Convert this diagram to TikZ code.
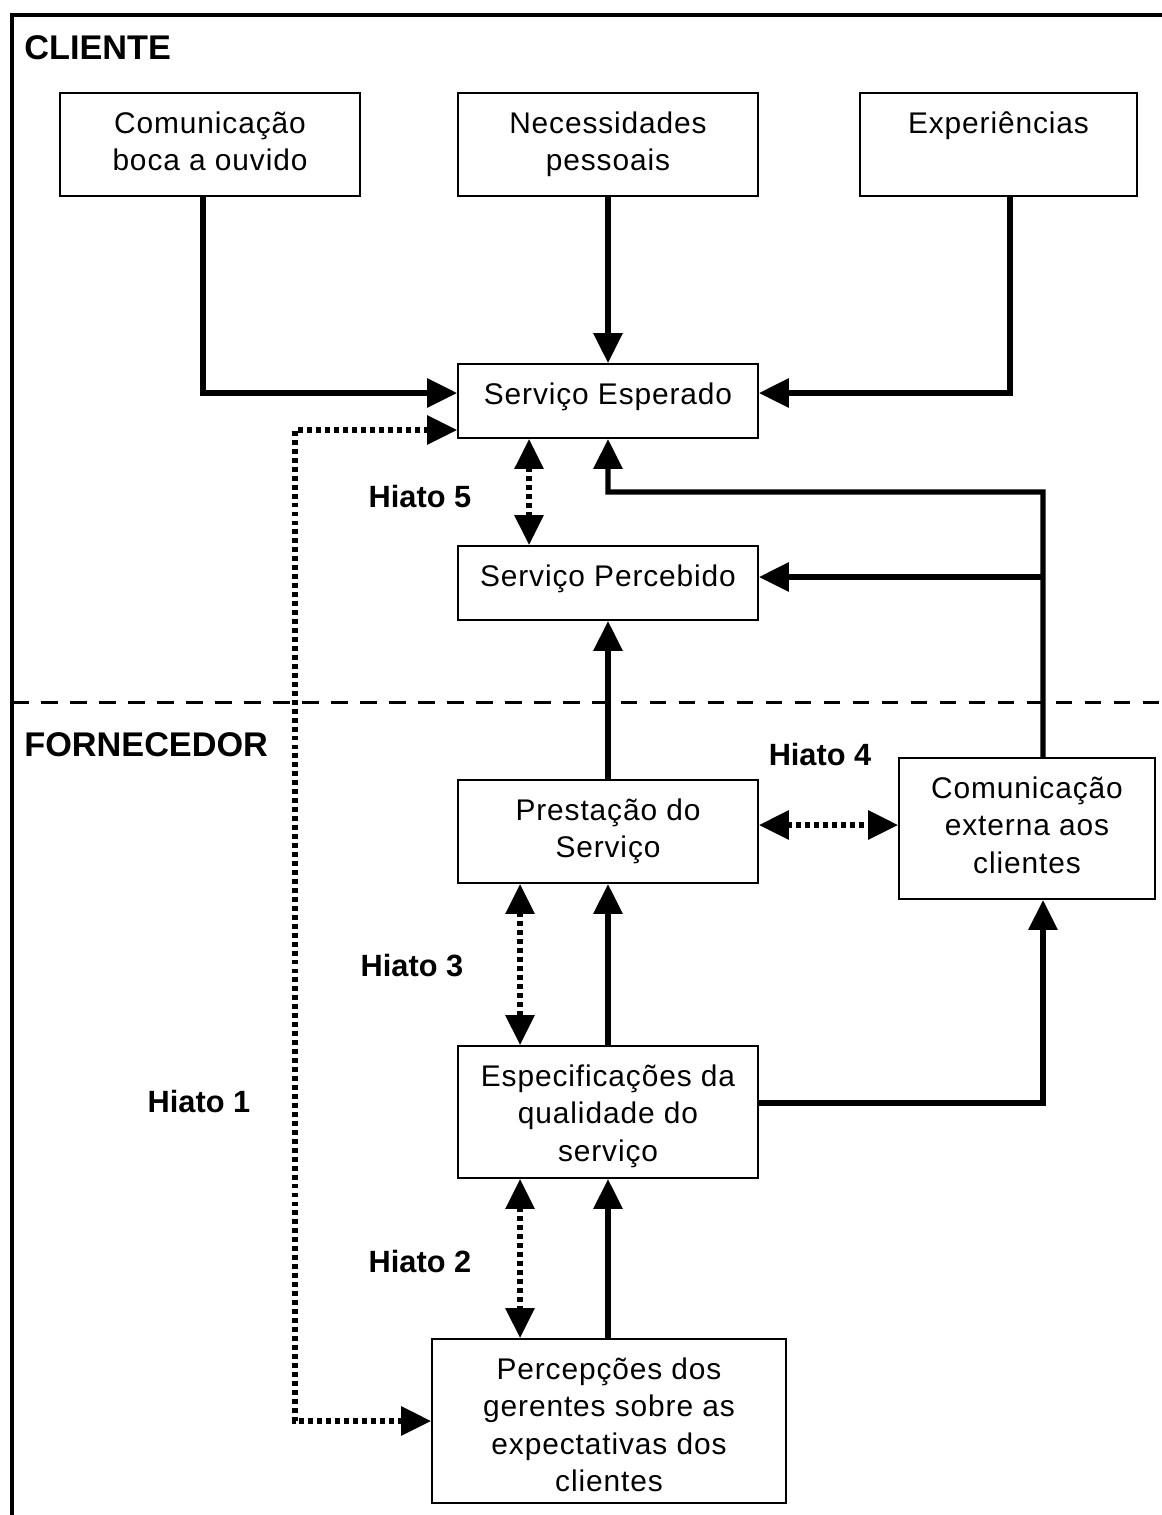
\documentclass[tikz,border=0pt]{standalone}
\usepackage{fontspec}
\setmainfont{Liberation Sans}
\newfontfamily\caixafont[LetterSpace=3]{Liberation Sans}
\usetikzlibrary{arrows.meta}

\begin{document}
\begin{tikzpicture}[x = 0.02cm, y = -0.02cm,
	caixa/.style 2 args = {draw, line width = 1.1pt, inner sep = 0pt,
		execute at begin node = {\begin{minipage}[t][#2][t]{#1}\centering\caixafont\fontsize{17pt}{21.3pt}\selectfont\rule{0pt}{23pt}},
		execute at end node = {\end{minipage}}},
	seta/.style = {line width = 3pt, -{Triangle[length = 17pt, width = 16pt]}},
	lacuna/.style = {line width = 3pt, dash pattern = on 2.8pt off 2.3pt,
		{Triangle[length = 17pt, width = 16pt]}-{Triangle[length = 17pt, width = 16pt]}},
	rotulo/.style = {inner sep = 0pt, font = \bfseries\fontsize{17.5pt}{21pt}\selectfont},
	secao/.style = {inner sep = 0pt, anchor = west, font = \bfseries\fontsize{19.5pt}{23pt}\selectfont}]
	\useasboundingbox (0, 0) rectangle (1162, 1515);
	\draw [line width = 2.5pt] (12, 1515) -- (12, 15) -- (1162, 15);
	\draw [line width = 1.7pt, dash pattern = on 9.5pt off 7pt] (12, 702) -- (1162, 702);
	\node[secao] (cliente) at (24, 48) {CLIENTE};
	\node[secao] (fornecedor) at (24, 745) {FORNECEDOR};

	\node[caixa = {6cm}{2.06cm}] (boca) at (210, 144.5) {Comunicação\\boca a ouvido};
	\node[caixa = {6cm}{2.06cm}] (necess) at (608, 144.5) {Necessidades\\pessoais};
	\node[caixa = {5.54cm}{2.06cm}] (exper) at (998.5, 144.5) {Experiências};
	\node[caixa = {6cm}{1.48cm}] (esperado) at (608, 401) {Serviço Esperado};
	\node[caixa = {6cm}{1.48cm}] (percebido) at (608, 583) {Serviço Percebido};
	\node[caixa = {6cm}{2.06cm}] (prest) at (608, 831.5) {Prestação do\\Serviço};
	\node[caixa = {5.12cm}{2.82cm}] (comext) at (1027, 828.5) {Comunicação\\externa aos\\clientes};
	\node[caixa = {6cm}{2.64cm}] (especif) at (608, 1112) {Especificações da\\qualidade do\\serviço};
	\node[caixa = {7.08cm}{3.28cm}] (percep) at (609, 1421) {Percepções dos\\gerentes sobre as\\expectativas dos\\clientes};

	\foreach \x/\y/\num in {420/497/5, 820/754/4, 412/966/3, 199/1101/1, 420/1261/2}{
		\node[rotulo] (hiato\num) at (\x, \y) {Hiato \num};}

	\coordinate (juncao) at (1043, 492);
	\coordinate (ramo) at (1043, 577);
	\coordinate (desvio) at (295, 900);

	\draw[seta] ([xshift = -.14cm]boca.south) |- ([yshift = .16cm]esperado.west);
	\draw[seta] (necess.south) -- (esperado.north);
	\draw[seta] ([xshift = .23cm]exper.south) |- ([yshift = .16cm]esperado.east);
	\draw[seta] ([xshift = .32cm]comext.north) -- (juncao) -| (esperado.south);
	\draw[seta] (ramo) -- (ramo -| percebido.east);
	\draw[seta] (prest.north) -- (percebido.south);
	\draw[seta] (especif.north) -- (prest.south);
	\draw[seta] (especif.south |- percep.north) -- (especif.south);
	\draw[seta] ([yshift = .18cm]especif.east) -| ([xshift = .32cm]comext.south);

	\draw[lacuna] ([xshift = -1.58cm]esperado.south) -- ([xshift = -1.58cm]percebido.north);
	\draw[lacuna] ([yshift = .13cm]prest.east) -- ([yshift = .13cm]prest.east -| comext.west);
	\draw[lacuna] ([xshift = -1.76cm]prest.south) -- ([xshift = -1.76cm]especif.north);
	\draw[lacuna] ([xshift = -1.76cm]especif.south) -- ([xshift = -1.76cm]especif.south |- percep.north);
	\draw[lacuna] ([yshift = -.58cm]esperado.west) -| (desvio) |- (percep.west);
\end{tikzpicture}
\end{document}
